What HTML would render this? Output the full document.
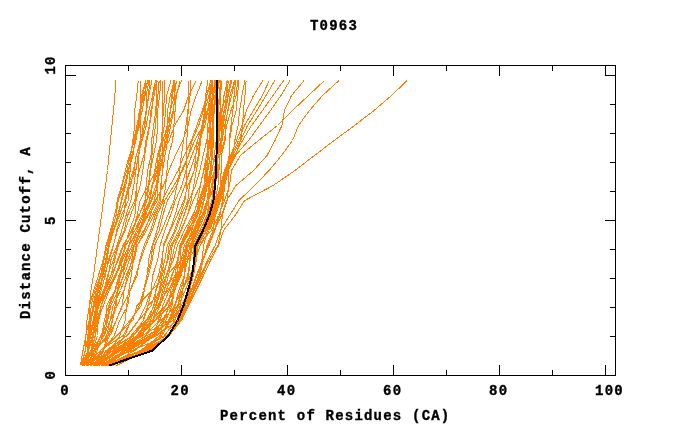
<!DOCTYPE html>
<html><head><meta charset="utf-8"><title>T0963</title>
<style>html,body{margin:0;padding:0;background:#fff}svg{display:block;will-change:transform}</style>
</head><body>
<svg width="680" height="440" viewBox="0 0 680 440">
<rect width="680" height="440" fill="#fff"/>
<g fill="none" stroke="#ff8000" stroke-width="1" shape-rendering="crispEdges">
<polyline points="105.8,365.5 143.0,350.5 169.3,335.5 181.5,320.5 188.5,305.5 196.0,290.5 203.5,275.5 210.5,260.5 218.5,245.5 223.5,230.5 235.0,215.5 244.7,200.5 273.2,185.5 294.9,170.5 314.5,155.5 334.2,140.5 354.5,125.5 374.1,110.5 391.5,95.5 407.2,80.5"/>
<polyline points="108.8,365.5 151.9,350.5 169.5,335.5 180.2,320.5 186.8,305.5 193.7,290.5 200.7,275.5 207.3,260.5 215.1,245.5 220.5,230.5 229.5,215.5 239.1,200.5 254.5,185.5 269.1,170.5 281.5,155.5 292.5,140.5 298.5,125.5 309.5,110.5 322.5,95.5 339.0,80.5"/>
<polyline points="96.8,365.5 116.9,350.5 131.3,335.5 143.5,320.5 148.2,305.5 161.7,290.5 175.3,275.5 187.4,260.5 197.7,245.5 211.5,230.5 218.5,215.5 224.5,200.5 229.5,185.5 231.5,170.5 240.5,155.5 258.5,140.5 277.5,125.5 292.5,110.5 308.5,95.5 324.5,80.5"/>
<polyline points="100.9,365.5 124.1,350.5 155.4,335.5 178.8,320.5 185.2,305.5 191.1,290.5 197.0,275.5 202.2,260.5 207.9,245.5 214.5,230.5 221.5,215.5 226.5,200.5 236.0,185.5 253.5,170.5 267.0,155.5 275.0,140.5 281.9,125.5 284.5,110.5 291.5,95.5 304.1,80.5"/>
<polyline points="97.0,365.5 116.2,350.5 142.4,335.5 168.6,320.5 174.2,305.5 182.3,290.5 190.1,275.5 195.3,260.5 200.1,245.5 209.5,230.5 215.5,215.5 220.5,200.5 224.5,185.5 228.5,170.5 235.5,155.5 248.5,140.5 259.5,125.5 270.5,110.5 281.0,95.5 289.9,80.5"/>
<polyline points="88.7,365.5 102.7,350.5 117.7,335.5 132.8,320.5 137.0,305.5 151.8,290.5 166.7,275.5 180.3,260.5 192.6,245.5 208.5,230.5 214.5,215.5 219.5,200.5 223.5,185.5 227.5,170.5 234.5,155.5 242.5,140.5 251.5,125.5 262.5,110.5 273.0,95.5 283.7,80.5"/>
<polyline points="112.0,365.5 145.0,350.5 169.2,335.5 180.8,320.5 187.7,305.5 193.7,290.5 198.8,275.5 201.9,260.5 203.6,245.5 207.5,230.5 213.5,215.5 218.5,200.5 222.5,185.5 226.5,170.5 232.5,155.5 240.5,140.5 247.5,125.5 257.1,110.5 266.0,95.5 274.8,80.5"/>
<polyline points="97.2,365.5 120.8,350.5 147.2,335.5 173.0,320.5 178.8,305.5 185.2,290.5 191.2,275.5 194.9,260.5 198.0,245.5 206.5,230.5 212.5,215.5 217.5,200.5 221.5,185.5 225.5,170.5 231.5,155.5 238.5,140.5 244.5,125.5 253.5,110.5 262.5,95.5 269.2,80.5"/>
<polyline points="104.5,365.5 124.3,350.5 139.9,335.5 152.4,320.5 157.5,305.5 167.6,290.5 177.5,275.5 185.9,260.5 193.2,245.5 205.5,230.5 211.5,215.5 216.5,200.5 220.5,185.5 224.5,170.5 230.5,155.5 236.5,140.5 242.0,125.5 246.5,110.5 253.5,95.5 262.9,80.5"/>
<polyline points="106.9,365.5 140.8,350.5 163.5,335.5 178.2,320.5 184.3,305.5 189.2,290.5 193.5,275.5 196.1,260.5 197.7,245.5 204.5,230.5 210.5,215.5 215.5,200.5 221.5,185.5 228.5,170.5 235.5,155.5 240.5,140.5 242.5,125.5 243.5,110.5 245.0,95.5 246.1,80.5"/>
<polyline points="80.5,365.5 83.0,350.5 86.0,335.5 87.0,320.5 89.5,305.5 91.0,290.5 93.5,275.5 95.5,260.5 97.5,245.5 99.5,230.5 101.5,215.5 103.5,200.5 105.5,185.5 107.5,170.5 109.0,155.5 110.5,140.5 112.0,125.5 113.5,110.5 114.8,95.5 116.0,80.5"/>
<polyline points="80.5,365.5 85.6,350.5 85.6,335.5 89.2,320.5 89.6,305.5 93.6,290.5 98.4,275.5 103.0,260.5 106.1,245.5 111.1,230.5 116.1,215.5 118.1,200.5 124.1,185.5 128.5,170.5 131.7,155.5 135.9,140.5 138.4,125.5 142.1,110.5 145.2,95.5 146.0,80.5"/>
<polyline points="87.9,365.5 87.9,350.5 87.9,335.5 89.4,320.5 91.3,305.5 94.8,290.5 100.4,275.5 103.7,260.5 107.4,245.5 112.1,230.5 116.0,215.5 117.1,200.5 121.6,185.5 125.3,170.5 129.4,155.5 134.5,140.5 137.0,125.5 142.7,110.5 143.8,95.5 148.1,80.5"/>
<polyline points="88.9,365.5 88.9,350.5 88.9,335.5 91.1,320.5 94.4,305.5 97.5,290.5 100.8,275.5 104.0,260.5 105.9,245.5 110.5,230.5 114.4,215.5 118.4,200.5 122.0,185.5 126.9,170.5 130.1,155.5 133.4,140.5 137.1,125.5 139.5,110.5 144.2,95.5 147.5,80.5"/>
<polyline points="88.1,365.5 88.1,350.5 90.0,335.5 90.0,320.5 93.8,305.5 96.1,290.5 101.4,275.5 106.1,260.5 108.7,245.5 113.5,230.5 118.0,215.5 121.9,200.5 125.7,185.5 128.7,170.5 132.1,155.5 135.9,140.5 137.6,125.5 140.1,110.5 141.7,95.5 145.6,80.5"/>
<polyline points="82.2,365.5 88.6,350.5 89.9,335.5 93.8,320.5 96.7,305.5 99.9,290.5 102.9,275.5 107.0,260.5 109.2,245.5 113.7,230.5 117.6,215.5 121.4,200.5 124.5,185.5 128.0,170.5 133.0,155.5 134.8,140.5 139.9,125.5 140.8,110.5 142.8,95.5 145.7,80.5"/>
<polyline points="80.5,365.5 88.3,350.5 89.9,335.5 93.7,320.5 95.7,305.5 98.0,290.5 104.2,275.5 109.0,260.5 113.6,245.5 116.7,230.5 121.4,215.5 128.3,200.5 128.9,185.5 130.1,170.5 130.6,155.5 132.9,140.5 134.7,125.5 134.7,110.5 136.8,95.5 138.3,80.5"/>
<polyline points="82.1,365.5 85.2,350.5 88.2,335.5 90.3,320.5 93.2,305.5 96.2,290.5 101.3,275.5 105.7,260.5 108.7,245.5 113.8,230.5 119.3,215.5 124.5,200.5 130.6,185.5 134.1,170.5 136.1,155.5 141.8,140.5 144.5,125.5 146.1,110.5 146.1,95.5 149.0,80.5"/>
<polyline points="86.4,365.5 91.0,350.5 93.4,335.5 96.2,320.5 97.1,305.5 101.1,290.5 105.3,275.5 108.2,260.5 113.2,245.5 117.5,230.5 123.6,215.5 125.7,200.5 129.2,185.5 135.8,170.5 138.1,155.5 142.1,140.5 146.3,125.5 148.9,110.5 152.8,95.5 157.3,80.5"/>
<polyline points="86.6,365.5 88.0,350.5 92.4,335.5 96.2,320.5 97.9,305.5 104.4,290.5 108.5,275.5 110.6,260.5 117.0,245.5 121.7,230.5 126.0,215.5 130.9,200.5 133.8,185.5 136.0,170.5 138.2,155.5 141.9,140.5 142.9,125.5 146.7,110.5 148.4,95.5 149.8,80.5"/>
<polyline points="86.8,365.5 88.4,350.5 89.4,335.5 93.2,320.5 96.0,305.5 98.5,290.5 102.8,275.5 105.6,260.5 108.4,245.5 113.0,230.5 119.4,215.5 124.7,200.5 128.3,185.5 133.3,170.5 136.4,155.5 140.2,140.5 144.8,125.5 146.5,110.5 149.0,95.5 152.0,80.5"/>
<polyline points="88.5,365.5 88.5,350.5 93.3,335.5 96.4,320.5 98.1,305.5 104.1,290.5 107.5,275.5 113.2,260.5 117.5,245.5 124.2,230.5 127.5,215.5 134.9,200.5 136.6,185.5 139.2,170.5 143.9,155.5 145.8,140.5 149.5,125.5 151.0,110.5 154.2,95.5 156.6,80.5"/>
<polyline points="81.9,365.5 88.6,350.5 92.3,335.5 95.2,320.5 96.9,305.5 103.4,290.5 110.9,275.5 118.2,260.5 123.7,245.5 131.2,230.5 138.5,215.5 146.8,200.5 148.9,185.5 150.6,170.5 153.5,155.5 156.5,140.5 157.7,125.5 157.7,110.5 159.6,95.5 160.9,80.5"/>
<polyline points="87.0,365.5 87.2,350.5 90.9,335.5 94.1,320.5 99.0,305.5 105.3,290.5 112.6,275.5 117.3,260.5 122.8,245.5 132.5,230.5 139.0,215.5 145.0,200.5 148.4,185.5 150.0,170.5 152.0,155.5 153.3,140.5 155.5,125.5 156.6,110.5 157.9,95.5 159.2,80.5"/>
<polyline points="82.4,365.5 92.3,350.5 97.5,335.5 98.1,320.5 103.4,305.5 109.1,290.5 115.9,275.5 120.3,260.5 125.6,245.5 134.7,230.5 141.8,215.5 146.9,200.5 152.8,185.5 154.7,170.5 157.4,155.5 161.7,140.5 164.3,125.5 165.5,110.5 166.7,95.5 171.0,80.5"/>
<polyline points="91.9,365.5 91.9,350.5 95.3,335.5 96.6,320.5 101.4,305.5 104.8,290.5 110.9,275.5 114.5,260.5 118.4,245.5 125.0,230.5 130.5,215.5 136.0,200.5 140.2,185.5 142.8,170.5 144.7,155.5 146.9,140.5 149.7,125.5 152.0,110.5 152.3,95.5 155.5,80.5"/>
<polyline points="84.1,365.5 88.0,350.5 93.3,335.5 97.6,320.5 101.2,305.5 107.8,290.5 116.1,275.5 122.3,260.5 129.1,245.5 138.6,230.5 144.9,215.5 151.7,200.5 157.7,185.5 159.6,170.5 163.5,155.5 164.7,140.5 167.2,125.5 170.5,110.5 171.8,95.5 174.0,80.5"/>
<polyline points="82.2,365.5 91.0,350.5 95.3,335.5 98.7,320.5 101.3,305.5 106.8,290.5 114.8,275.5 121.7,260.5 125.9,245.5 134.9,230.5 143.6,215.5 150.7,200.5 155.9,185.5 158.8,170.5 161.0,155.5 166.6,140.5 169.2,125.5 170.3,110.5 172.5,95.5 174.9,80.5"/>
<polyline points="92.6,365.5 97.1,350.5 102.7,335.5 106.0,320.5 106.8,305.5 114.8,290.5 119.0,275.5 125.1,260.5 132.0,245.5 138.1,230.5 147.2,215.5 154.5,200.5 157.0,185.5 160.1,170.5 162.9,155.5 166.7,140.5 167.5,125.5 170.3,110.5 174.5,95.5 174.7,80.5"/>
<polyline points="84.7,365.5 91.5,350.5 101.8,335.5 104.2,320.5 108.7,305.5 115.3,290.5 120.3,275.5 127.3,260.5 133.7,245.5 139.9,230.5 148.1,215.5 157.4,200.5 157.9,185.5 157.9,170.5 159.5,155.5 161.5,140.5 162.4,125.5 163.4,110.5 164.6,95.5 164.9,80.5"/>
<polyline points="83.0,365.5 93.8,350.5 100.9,335.5 106.9,320.5 109.5,305.5 115.4,290.5 120.1,275.5 126.5,260.5 129.0,245.5 136.8,230.5 143.0,215.5 149.5,200.5 152.0,185.5 157.0,170.5 158.1,155.5 163.1,140.5 167.3,125.5 167.6,110.5 170.3,95.5 174.4,80.5"/>
<polyline points="86.5,365.5 94.8,350.5 103.8,335.5 107.6,320.5 110.9,305.5 118.1,290.5 123.9,275.5 129.3,260.5 134.6,245.5 143.6,230.5 151.7,215.5 159.4,200.5 160.7,185.5 162.6,170.5 165.0,155.5 167.6,140.5 170.7,125.5 173.7,110.5 174.5,95.5 176.4,80.5"/>
<polyline points="91.4,365.5 95.8,350.5 106.7,335.5 110.1,320.5 113.1,305.5 120.5,290.5 126.2,275.5 132.5,260.5 137.2,245.5 146.4,230.5 153.6,215.5 160.6,200.5 161.2,185.5 162.5,170.5 162.5,155.5 162.5,140.5 162.5,125.5 162.5,110.5 162.5,95.5 162.5,80.5"/>
<polyline points="90.0,365.5 102.9,350.5 107.8,335.5 112.3,320.5 116.4,305.5 117.6,290.5 123.6,275.5 124.7,260.5 129.3,245.5 132.8,230.5 137.2,215.5 140.1,200.5 148.3,185.5 155.6,170.5 160.9,155.5 169.1,140.5 174.6,125.5 183.7,110.5 188.6,95.5 196.1,80.5"/>
<polyline points="89.7,365.5 93.7,350.5 104.2,335.5 110.1,320.5 117.4,305.5 123.7,290.5 128.9,275.5 134.0,260.5 137.4,245.5 144.9,230.5 150.2,215.5 155.4,200.5 163.6,185.5 168.9,170.5 175.4,155.5 182.8,140.5 188.2,125.5 191.1,110.5 196.3,95.5 202.2,80.5"/>
<polyline points="96.3,365.5 103.6,350.5 109.5,335.5 112.4,320.5 115.1,305.5 117.3,290.5 120.5,275.5 122.2,260.5 125.0,245.5 129.4,230.5 134.9,215.5 136.0,200.5 136.9,185.5 138.3,170.5 138.9,155.5 140.2,140.5 140.5,125.5 140.5,110.5 140.5,95.5 140.5,80.5"/>
<polyline points="92.6,365.5 93.6,350.5 108.8,335.5 116.2,320.5 122.2,305.5 124.0,290.5 127.4,275.5 131.8,260.5 134.0,245.5 140.4,230.5 145.8,215.5 149.8,200.5 152.5,185.5 158.8,170.5 163.1,155.5 166.2,140.5 169.0,125.5 173.1,110.5 175.7,95.5 181.5,80.5"/>
<polyline points="87.5,365.5 93.7,350.5 110.5,335.5 116.1,320.5 122.8,305.5 130.0,290.5 135.8,275.5 140.4,260.5 145.7,245.5 152.2,230.5 157.0,215.5 163.4,200.5 165.7,185.5 167.0,170.5 168.5,155.5 172.7,140.5 173.9,125.5 175.1,110.5 176.3,95.5 180.2,80.5"/>
<polyline points="96.7,365.5 110.3,350.5 119.8,335.5 125.3,320.5 126.6,305.5 128.7,290.5 131.3,275.5 133.1,260.5 136.2,245.5 139.4,230.5 144.0,215.5 145.2,200.5 146.1,185.5 147.7,170.5 151.0,155.5 151.6,140.5 153.6,125.5 155.8,110.5 156.6,95.5 156.6,80.5"/>
<polyline points="94.5,365.5 102.6,350.5 114.3,335.5 119.7,320.5 127.7,305.5 130.1,290.5 137.2,275.5 139.5,260.5 144.1,245.5 150.7,230.5 155.2,215.5 162.1,200.5 169.9,185.5 178.1,170.5 184.2,155.5 191.4,140.5 196.8,125.5 202.4,110.5 206.8,95.5 212.7,80.5"/>
<polyline points="91.6,365.5 113.3,350.5 124.9,335.5 130.8,320.5 139.4,305.5 144.1,290.5 148.4,275.5 152.2,260.5 154.6,245.5 161.6,230.5 167.8,215.5 173.9,200.5 177.0,185.5 179.8,170.5 181.3,155.5 183.5,140.5 186.0,125.5 187.8,110.5 190.1,95.5 190.9,80.5"/>
<polyline points="94.5,365.5 100.4,350.5 123.2,335.5 131.4,320.5 139.3,305.5 143.5,290.5 147.0,275.5 151.0,260.5 152.7,245.5 159.1,230.5 162.8,215.5 167.4,200.5 176.7,185.5 181.7,170.5 188.5,155.5 192.1,140.5 198.7,125.5 203.3,110.5 206.7,95.5 210.7,80.5"/>
<polyline points="86.6,365.5 100.3,350.5 116.9,335.5 130.0,320.5 141.4,305.5 144.2,290.5 147.5,275.5 148.4,260.5 152.2,245.5 157.0,230.5 160.8,215.5 164.8,200.5 173.9,185.5 182.7,170.5 188.5,155.5 194.7,140.5 202.9,125.5 207.1,110.5 213.0,95.5 218.2,80.5"/>
<polyline points="91.3,365.5 107.9,350.5 127.1,335.5 138.3,320.5 145.9,305.5 151.1,290.5 152.7,275.5 157.6,260.5 160.1,245.5 164.8,230.5 170.4,215.5 175.3,200.5 181.9,185.5 186.0,170.5 191.8,155.5 197.7,140.5 201.9,125.5 204.9,110.5 209.0,95.5 212.6,80.5"/>
<polyline points="98.8,365.5 106.0,350.5 127.5,335.5 138.6,320.5 151.3,305.5 156.1,290.5 161.1,275.5 164.7,260.5 167.2,245.5 174.6,230.5 179.6,215.5 185.0,200.5 186.7,185.5 186.8,170.5 186.8,155.5 186.8,140.5 187.7,125.5 188.1,110.5 188.1,95.5 188.1,80.5"/>
<polyline points="96.5,365.5 117.9,350.5 133.9,335.5 143.1,320.5 147.8,305.5 151.9,290.5 158.5,275.5 161.7,260.5 164.1,245.5 170.3,230.5 177.1,215.5 183.8,200.5 187.9,185.5 194.2,170.5 198.5,155.5 199.6,140.5 204.9,125.5 207.9,110.5 209.8,95.5 212.1,80.5"/>
<polyline points="94.8,365.5 121.0,350.5 138.5,335.5 146.1,320.5 154.3,305.5 155.5,290.5 160.3,275.5 162.7,260.5 163.2,245.5 169.6,230.5 175.0,215.5 179.1,200.5 185.0,185.5 190.0,170.5 195.3,155.5 199.6,140.5 202.6,125.5 208.0,110.5 212.9,95.5 215.6,80.5"/>
<polyline points="93.8,365.5 120.1,350.5 137.6,335.5 148.4,320.5 153.5,305.5 159.1,290.5 162.1,275.5 167.8,260.5 171.0,245.5 178.9,230.5 184.0,215.5 189.0,200.5 195.5,185.5 199.9,170.5 203.2,155.5 206.7,140.5 209.2,125.5 209.3,110.5 213.1,95.5 214.7,80.5"/>
<polyline points="104.5,365.5 125.7,350.5 140.7,335.5 150.5,320.5 155.6,305.5 159.9,290.5 163.9,275.5 167.1,260.5 169.1,245.5 175.7,230.5 181.1,215.5 187.9,200.5 189.3,185.5 194.3,170.5 195.8,155.5 197.4,140.5 202.7,125.5 204.4,110.5 206.9,95.5 212.1,80.5"/>
<polyline points="93.3,365.5 117.8,350.5 136.7,335.5 148.2,320.5 158.9,305.5 164.4,290.5 168.4,275.5 171.6,260.5 174.7,245.5 181.2,230.5 187.3,215.5 191.1,200.5 193.8,185.5 196.3,170.5 199.1,155.5 200.6,140.5 203.6,125.5 205.7,110.5 205.7,95.5 207.8,80.5"/>
<polyline points="105.4,365.5 123.2,350.5 139.1,335.5 148.6,320.5 156.2,305.5 160.9,290.5 166.1,275.5 173.2,260.5 177.5,245.5 184.2,230.5 192.6,215.5 198.9,200.5 203.9,185.5 207.9,170.5 208.0,155.5 210.5,140.5 213.7,125.5 214.1,110.5 214.9,95.5 216.8,80.5"/>
<polyline points="93.4,365.5 109.7,350.5 133.6,335.5 146.6,320.5 158.8,305.5 162.6,290.5 166.7,275.5 170.2,260.5 172.2,245.5 180.7,230.5 187.2,215.5 193.3,200.5 200.2,185.5 203.5,170.5 206.6,155.5 209.0,140.5 209.7,125.5 211.8,110.5 213.5,95.5 216.0,80.5"/>
<polyline points="110.5,365.5 133.8,350.5 154.1,335.5 158.3,320.5 162.9,305.5 169.1,290.5 175.0,275.5 177.2,260.5 181.8,245.5 190.5,230.5 197.6,215.5 201.9,200.5 205.9,185.5 207.2,170.5 207.9,155.5 209.3,140.5 209.3,125.5 210.5,110.5 210.5,95.5 211.5,80.5"/>
<polyline points="105.8,365.5 124.7,350.5 146.2,335.5 153.1,320.5 159.9,305.5 166.6,290.5 171.4,275.5 178.4,260.5 179.9,245.5 188.9,230.5 196.2,215.5 200.3,200.5 204.1,185.5 205.3,170.5 207.8,155.5 207.8,140.5 207.8,125.5 209.3,110.5 211.0,95.5 211.3,80.5"/>
<polyline points="91.5,365.5 108.0,350.5 133.0,335.5 145.5,320.5 160.0,305.5 166.2,290.5 172.3,275.5 177.1,260.5 181.5,245.5 187.6,230.5 196.9,215.5 200.7,200.5 204.6,185.5 206.5,170.5 208.6,155.5 209.2,140.5 210.2,125.5 213.6,110.5 215.0,95.5 215.5,80.5"/>
<polyline points="96.0,365.5 112.3,350.5 138.0,335.5 151.7,320.5 165.4,305.5 172.7,290.5 178.7,275.5 181.1,260.5 184.3,245.5 193.4,230.5 199.5,215.5 203.5,200.5 206.2,185.5 207.9,170.5 210.3,155.5 210.3,140.5 210.3,125.5 210.9,110.5 212.8,95.5 212.8,80.5"/>
<polyline points="95.2,365.5 112.3,350.5 140.1,335.5 155.3,320.5 169.8,305.5 174.9,290.5 180.2,275.5 185.5,260.5 187.3,245.5 196.7,230.5 203.0,215.5 208.9,200.5 209.5,185.5 211.6,170.5 212.2,155.5 212.4,140.5 213.6,125.5 214.1,110.5 215.1,95.5 215.1,80.5"/>
<polyline points="103.0,365.5 140.5,350.5 159.9,335.5 163.8,320.5 168.9,305.5 170.5,290.5 176.9,275.5 177.7,260.5 179.9,245.5 186.7,230.5 193.4,215.5 197.6,200.5 200.4,185.5 203.7,170.5 208.4,155.5 209.8,140.5 212.8,125.5 212.8,110.5 215.8,95.5 217.4,80.5"/>
<polyline points="95.1,365.5 117.7,350.5 141.1,335.5 154.7,320.5 166.2,305.5 174.2,290.5 181.2,275.5 184.6,260.5 187.0,245.5 197.8,230.5 201.8,215.5 208.3,200.5 208.5,185.5 210.7,170.5 212.4,155.5 213.6,140.5 213.6,125.5 213.7,110.5 215.8,95.5 219.7,80.5"/>
<polyline points="106.3,365.5 128.2,350.5 151.6,335.5 159.5,320.5 165.5,305.5 172.4,290.5 177.5,275.5 182.9,260.5 185.6,245.5 193.5,230.5 203.3,215.5 208.8,200.5 211.4,185.5 215.7,170.5 218.1,155.5 218.2,140.5 218.3,125.5 218.3,110.5 220.3,95.5 222.1,80.5"/>
<polyline points="108.0,365.5 141.4,350.5 160.1,335.5 169.9,320.5 175.0,305.5 180.7,290.5 184.6,275.5 185.4,260.5 188.4,245.5 194.0,230.5 200.5,215.5 204.2,200.5 207.2,185.5 210.1,170.5 211.6,155.5 211.6,140.5 212.1,125.5 213.6,110.5 217.6,95.5 218.6,80.5"/>
<polyline points="108.2,365.5 134.8,350.5 154.5,335.5 165.7,320.5 172.2,305.5 174.1,290.5 176.0,275.5 180.1,260.5 180.1,245.5 189.7,230.5 194.5,215.5 201.9,200.5 206.5,185.5 212.2,170.5 214.4,155.5 216.2,140.5 218.8,125.5 218.8,110.5 219.1,95.5 220.8,80.5"/>
<polyline points="99.2,365.5 129.8,350.5 153.5,335.5 162.0,320.5 170.9,305.5 173.9,290.5 179.6,275.5 183.6,260.5 187.8,245.5 195.0,230.5 202.7,215.5 208.1,200.5 211.6,185.5 214.8,170.5 215.9,155.5 219.0,140.5 219.4,125.5 220.1,110.5 220.1,95.5 220.8,80.5"/>
<polyline points="109.2,365.5 148.3,350.5 168.7,335.5 177.1,320.5 180.2,305.5 182.8,290.5 184.4,275.5 185.8,260.5 185.8,245.5 192.0,230.5 195.6,215.5 199.6,200.5 205.2,185.5 211.1,170.5 216.1,155.5 218.6,140.5 220.0,125.5 224.2,110.5 228.0,95.5 230.8,80.5"/>
<polyline points="105.3,365.5 125.7,350.5 149.9,335.5 162.8,320.5 175.0,305.5 178.7,290.5 184.4,275.5 185.2,260.5 187.5,245.5 194.3,230.5 202.0,215.5 207.0,200.5 209.1,185.5 214.6,170.5 216.1,155.5 219.1,140.5 219.8,125.5 222.3,110.5 224.0,95.5 227.6,80.5"/>
<polyline points="101.2,365.5 113.9,350.5 143.7,335.5 159.9,320.5 178.1,305.5 180.7,290.5 184.2,275.5 187.6,260.5 189.6,245.5 197.1,230.5 202.1,215.5 208.6,200.5 211.6,185.5 217.4,170.5 217.5,155.5 218.6,140.5 220.9,125.5 224.3,110.5 228.2,95.5 230.7,80.5"/>
<polyline points="111.4,365.5 141.3,350.5 165.0,335.5 174.6,320.5 181.0,305.5 189.3,290.5 192.6,275.5 194.3,260.5 197.6,245.5 203.0,230.5 208.0,215.5 212.5,200.5 212.5,185.5 216.4,170.5 217.8,155.5 217.8,140.5 220.1,125.5 221.1,110.5 226.8,95.5 228.4,80.5"/>
<polyline points="102.0,365.5 128.6,350.5 154.8,335.5 168.3,320.5 177.8,305.5 182.4,290.5 187.6,275.5 190.1,260.5 191.9,245.5 200.0,230.5 206.9,215.5 211.8,200.5 215.1,185.5 218.3,170.5 219.9,155.5 221.4,140.5 221.7,125.5 224.5,110.5 226.1,95.5 226.1,80.5"/>
<polyline points="112.6,365.5 144.2,350.5 161.9,335.5 170.6,320.5 177.6,305.5 182.1,290.5 188.8,275.5 189.5,260.5 190.9,245.5 198.0,230.5 204.7,215.5 208.3,200.5 214.2,185.5 216.0,170.5 218.5,155.5 221.7,140.5 222.6,125.5 224.1,110.5 227.8,95.5 230.7,80.5"/>
<polyline points="92.8,365.5 119.3,350.5 152.5,335.5 168.8,320.5 183.9,305.5 188.8,290.5 193.4,275.5 196.3,260.5 196.8,245.5 205.0,230.5 209.2,215.5 215.3,200.5 218.0,185.5 218.7,170.5 220.0,155.5 222.1,140.5 224.7,125.5 228.0,110.5 231.6,95.5 234.9,80.5"/>
<polyline points="110.4,365.5 150.0,350.5 169.1,335.5 179.2,320.5 185.7,305.5 188.8,290.5 193.4,275.5 195.0,260.5 197.4,245.5 203.6,230.5 208.9,215.5 214.6,200.5 215.6,185.5 216.7,170.5 217.7,155.5 220.6,140.5 223.2,125.5 225.8,110.5 228.3,95.5 231.8,80.5"/>
<polyline points="98.8,365.5 120.4,350.5 152.6,335.5 170.4,320.5 185.1,305.5 189.9,290.5 192.5,275.5 193.8,260.5 193.9,245.5 201.5,230.5 207.6,215.5 208.5,200.5 214.9,185.5 219.0,170.5 219.9,155.5 224.4,140.5 226.5,125.5 231.0,110.5 236.1,95.5 237.7,80.5"/>
<polyline points="116.5,365.5 146.5,350.5 168.8,335.5 178.2,320.5 186.9,305.5 193.2,290.5 198.7,275.5 203.5,260.5 206.9,245.5 213.0,230.5 215.0,215.5 217.3,200.5 220.3,185.5 221.2,170.5 221.3,155.5 225.1,140.5 225.2,125.5 227.8,110.5 230.1,95.5 234.5,80.5"/>
<polyline points="107.2,365.5 125.7,350.5 157.2,335.5 177.2,320.5 185.6,305.5 191.0,290.5 196.3,275.5 202.2,260.5 208.0,245.5 214.1,230.5 219.1,215.5 223.1,200.5 224.8,185.5 227.2,170.5 229.5,155.5 229.7,140.5 231.9,125.5 236.2,110.5 237.5,95.5 239.0,80.5"/>
<polyline points="98.2,365.5 132.0,350.5 167.3,335.5 178.8,320.5 186.8,305.5 191.4,290.5 200.0,275.5 202.6,260.5 209.0,245.5 214.9,230.5 219.9,215.5 222.4,200.5 224.6,185.5 226.1,170.5 229.2,155.5 229.2,140.5 230.9,125.5 232.9,110.5 234.1,95.5 235.7,80.5"/>
<polyline points="108.9,365.5 151.7,350.5 169.5,335.5 179.3,320.5 188.2,305.5 194.1,290.5 201.8,275.5 208.5,260.5 217.9,245.5 221.0,230.5 222.3,215.5 227.2,200.5 228.6,185.5 228.6,170.5 233.1,155.5 234.8,140.5 238.1,125.5 239.6,110.5 242.0,95.5 244.8,80.5"/>
</g>
<polyline fill="none" stroke="#000" stroke-width="2" shape-rendering="crispEdges" points="109.0,365.5 152.5,350.5 168.5,335.5 177.5,320.5 183.5,305.5 188.0,290.5 192.0,275.5 194.2,260.5 195.5,245.5 203.0,230.5 209.2,215.5 213.5,200.5 215.0,185.5 216.2,170.5 216.5,155.5 216.8,140.5 217.0,125.5 217.0,110.5 217.2,95.5 217.2,80.5 217.3,80.0"/>
<g fill="none" stroke="#000" stroke-width="1" shape-rendering="crispEdges">
<rect x="65.5" y="65.5" width="550" height="310"/>
<line x1="128.5" y1="370" x2="128.5" y2="375"/>
<line x1="128.5" y1="65" x2="128.5" y2="71"/>
<line x1="181.5" y1="365" x2="181.5" y2="375"/>
<line x1="181.5" y1="65" x2="181.5" y2="76"/>
<line x1="234.5" y1="370" x2="234.5" y2="375"/>
<line x1="234.5" y1="65" x2="234.5" y2="71"/>
<line x1="287.5" y1="365" x2="287.5" y2="375"/>
<line x1="287.5" y1="65" x2="287.5" y2="76"/>
<line x1="340.5" y1="370" x2="340.5" y2="375"/>
<line x1="340.5" y1="65" x2="340.5" y2="71"/>
<line x1="393.5" y1="365" x2="393.5" y2="375"/>
<line x1="393.5" y1="65" x2="393.5" y2="76"/>
<line x1="446.5" y1="370" x2="446.5" y2="375"/>
<line x1="446.5" y1="65" x2="446.5" y2="71"/>
<line x1="499.5" y1="365" x2="499.5" y2="375"/>
<line x1="499.5" y1="65" x2="499.5" y2="76"/>
<line x1="552.5" y1="370" x2="552.5" y2="375"/>
<line x1="552.5" y1="65" x2="552.5" y2="71"/>
<line x1="605.5" y1="365" x2="605.5" y2="375"/>
<line x1="605.5" y1="65" x2="605.5" y2="76"/>
<line x1="65" y1="336.5" x2="71" y2="336.5"/>
<line x1="610" y1="336.5" x2="615" y2="336.5"/>
<line x1="65" y1="307.5" x2="71" y2="307.5"/>
<line x1="610" y1="307.5" x2="615" y2="307.5"/>
<line x1="65" y1="278.5" x2="71" y2="278.5"/>
<line x1="610" y1="278.5" x2="615" y2="278.5"/>
<line x1="65" y1="249.5" x2="71" y2="249.5"/>
<line x1="610" y1="249.5" x2="615" y2="249.5"/>
<line x1="65" y1="220.5" x2="76" y2="220.5"/>
<line x1="605" y1="220.5" x2="615" y2="220.5"/>
<line x1="65" y1="191.5" x2="71" y2="191.5"/>
<line x1="610" y1="191.5" x2="615" y2="191.5"/>
<line x1="65" y1="162.5" x2="71" y2="162.5"/>
<line x1="610" y1="162.5" x2="615" y2="162.5"/>
<line x1="65" y1="133.5" x2="71" y2="133.5"/>
<line x1="610" y1="133.5" x2="615" y2="133.5"/>
<line x1="65" y1="104.5" x2="71" y2="104.5"/>
<line x1="610" y1="104.5" x2="615" y2="104.5"/>
<line x1="65" y1="75.5" x2="76" y2="75.5"/>
<line x1="605" y1="75.5" x2="615" y2="75.5"/>
</g>
<g font-family="'Liberation Mono', monospace" font-weight="bold" font-size="14px" letter-spacing="1.2px" fill="#000" stroke="#000" stroke-width="0.35">
<text x="310" y="30">T0963</text>
<text x="220" y="420">Percent of Residues (CA)</text>
<text x="60.3" y="395">0</text>
<text x="170.6" y="395">20</text>
<text x="277.1" y="395">40</text>
<text x="383.1" y="395">60</text>
<text x="489.1" y="395">80</text>
<text x="595.1" y="395">100</text>
<text transform="translate(55,379.5) rotate(-90)">0</text>
<text transform="translate(55,225.0) rotate(-90)">5</text>
<text transform="translate(55,74.5) rotate(-90)">10</text>
<text transform="translate(30,319) rotate(-90)">Distance Cutoff, A</text>
</g>
</svg>
</body></html>
